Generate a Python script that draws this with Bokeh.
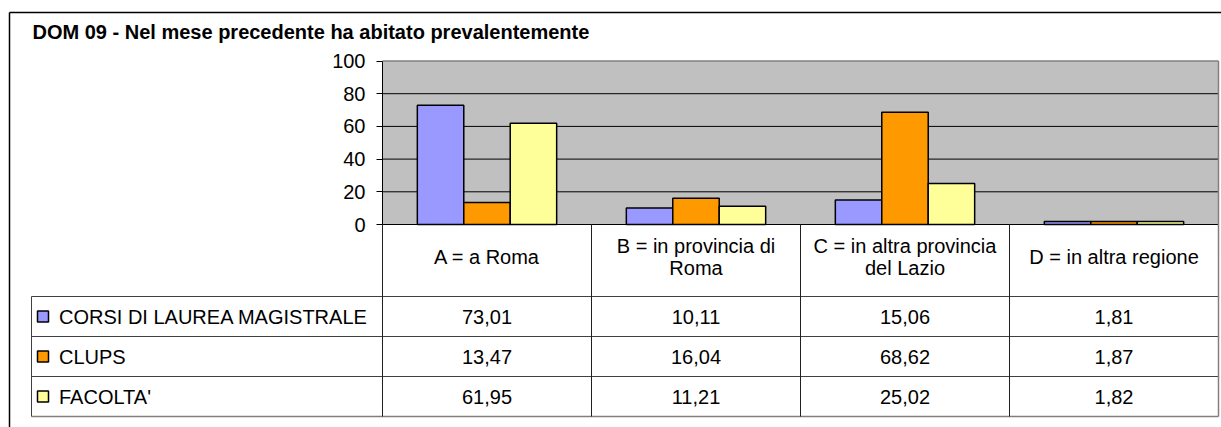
from bokeh.plotting import figure
from bokeh.models import Range1d, LinearAxis, FixedTicker, Label
from bokeh.core.properties import value
from bokeh.embed import file_html
from bokeh.resources import INLINE

# ---------------- data ----------------
title = "DOM 09 - Nel mese precedente ha abitato prevalentemente"
categories = ["A = a Roma", "B = in provincia di\nRoma",
              "C = in altra provincia\ndel Lazio", "D = in altra regione"]
series = ["CORSI DI LAUREA MAGISTRALE", "CLUPS", "FACOLTA'"]
corsi = [73.01, 10.11, 15.06, 1.81]
clups = [13.47, 16.04, 68.62, 1.87]
facolta = [61.95, 11.21, 25.02, 1.82]
colors = ["#9999FF", "#FF9900", "#FFFF99"]
yticks = [0, 20, 40, 60, 80, 100]

values = [corsi, clups, facolta]
ncat = len(categories)
nser = len(series)

# ---------------- layout (canvas pixels) ----------------
W, H = 1221, 427
PA_LEFT = 382        # plot-area left (canvas px)
CAT_W = 209          # px per category
ZERO_Y = 224         # canvas y of value 0
PX_PER_UNIT = 1.635  # px per value unit
ROW_TOP = 296        # canvas y of first data row
ROW_H = 40           # px per table row
HEADER_ROWS = (ROW_TOP - ZERO_Y) / ROW_H
FONT = value("Liberation Sans")

def cx(px):
    return (px - PA_LEFT) / CAT_W

def ty(py):
    return (py - ROW_TOP) / ROW_H

p = figure(width=W, height=H, output_backend="svg", toolbar_location=None,
           x_range=Range1d(cx(0), cx(W)),
           y_range=Range1d(-(H - ZERO_Y) / PX_PER_UNIT, ZERO_Y / PX_PER_UNIT),
           x_axis_location=None, y_axis_location=None, title=None,
           min_border_left=0, min_border_right=0, min_border_top=0, min_border_bottom=0)
p.extra_y_ranges = {"tbl": Range1d(start=ty(H), end=ty(0))}
p.outline_line_color = None
p.background_fill_color = "white"
p.border_fill_color = "white"
p.xgrid.visible = False
p.ygrid.visible = False

# plot area background
p.quad(left=[0], right=[ncat], bottom=[yticks[0]], top=[yticks[-1]],
       fill_color="#C0C0C0", line_color=None)
# gridlines
p.segment(x0=[0] * 5, x1=[ncat] * 5, y0=yticks[:-1], y1=yticks[:-1],
          line_color="black", line_width=1)
p.segment(x0=[0, ncat], x1=[ncat, ncat], y0=[yticks[-1], 0], y1=[yticks[-1], yticks[-1]],
          line_color="#808080", line_width=1.5)

# bars
bw = 1 / (nser + 1.5)
for j in range(nser):
    xs = [i + 0.5 + (j - (nser - 1) / 2) * bw for i in range(ncat)]
    p.vbar(x=xs, top=values[j], bottom=0, width=bw, fill_color=colors[j],
           line_color="black", line_width=1.5)

# y axis at plot-area left
yax = LinearAxis(fixed_location=0, ticker=FixedTicker(ticks=yticks), bounds=(0, 100))
yax.axis_line_color = "black"
yax.major_tick_line_color = "black"
yax.major_tick_out = 6
yax.major_tick_in = 0
yax.minor_tick_line_color = None
yax.major_label_standoff = 11
yax.major_label_text_font = "Liberation Sans"
yax.major_label_text_font_size = "20px"
yax.major_label_text_color = "black"
p.add_layout(yax, "left")

# ---------------- data table ----------------
LX = cx(31)
t_head = -HEADER_ROWS
# horizontal lines
p.segment(x0=[LX] * nser, x1=[ncat] * nser, y0=list(range(nser)), y1=list(range(nser)),
          line_color="#404040", line_width=1, y_range_name="tbl")
p.segment(x0=[LX], x1=[ncat], y0=[nser], y1=[nser],
          line_color="#808080", line_width=1.5, y_range_name="tbl")
# vertical lines
p.segment(x0=[LX], x1=[LX], y0=[0], y1=[nser], line_color="#404040", line_width=1,
          y_range_name="tbl")
p.segment(x0=list(range(ncat)), x1=list(range(ncat)), y0=[t_head] * ncat, y1=[nser] * ncat,
          line_color="#202020", line_width=1, y_range_name="tbl")
p.segment(x0=[ncat], x1=[ncat], y0=[t_head], y1=[nser], line_color="#808080", line_width=1.5,
          y_range_name="tbl")

# header texts
p.text(x=[i + 0.5 for i in range(ncat)], y=[t_head / 2 - 0.08] * ncat, text=categories,
       text_font=FONT, text_font_size="20px", text_align="center",
       text_baseline="middle", text_line_height=1.0, text_color="black",
       y_range_name="tbl")
# value texts
for j in range(nser):
    p.text(x=[i + 0.5 for i in range(ncat)], y=[j + 0.5] * ncat,
           text=[f"{v:.2f}".replace(".", ",") for v in values[j]],
           text_font=FONT, text_font_size="20px", text_align="center",
           text_baseline="middle", text_color="black", y_range_name="tbl")
# legend keys and names
p.scatter(x=[cx(42.5)] * nser, y=[j + 0.5 for j in range(nser)], marker="square", size=11,
          fill_color=colors, line_color="black", line_width=1.5, y_range_name="tbl")
p.text(x=[cx(58.5)] * nser, y=[j + 0.5 for j in range(nser)], text=series,
       text_font=FONT, text_font_size="20px", text_align="left",
       text_baseline="middle", text_color="black", y_range_name="tbl")

# outer frame (left and top edges)
p.segment(x0=[cx(9), cx(9)], x1=[cx(9), cx(W)], y0=[ty(12), ty(12)], y1=[ty(H), ty(12)],
          line_color="black", line_width=1.5, y_range_name="tbl")

# title
p.add_layout(Label(x=cx(32), y=ty(31), y_range_name="tbl", text=title,
                   text_font="Liberation Sans", text_font_style="bold",
                   text_font_size="20px", text_baseline="middle", text_color="black"))

open("out.html", "w").write(file_html(p, INLINE))
